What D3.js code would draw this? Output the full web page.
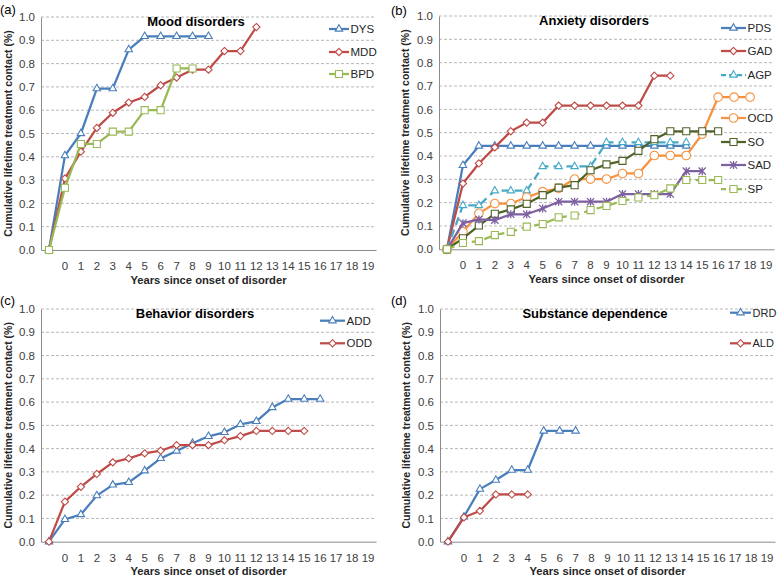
<!DOCTYPE html>
<html><head><meta charset="utf-8">
<script src="https://cdn.jsdelivr.net/npm/d3@7"></script>
<style>
body{margin:0;background:#fff}
svg{display:block}
text{font-family:"Liberation Sans",Arial,Helvetica,sans-serif}
</style>
</head><body>
<svg id="chart" width="777" height="577"></svg>
<script>
// ---------- DATA ----------
const categories = ["", "0","1","2","3","4","5","6","7","8","9","10","11","12","13","14","15","16","17","18","19"];
const yTicks = [0,0.1,0.2,0.3,0.4,0.5,0.6,0.7,0.8,0.9,1.0];

// (a) Mood disorders
const moodNames = ["DYS","MDD","BPD"];
const DYS = [0,0.405,0.50,0.693,0.693,0.86,0.917,0.917,0.917,0.917,0.917];
const MDD = [0,0.307,0.422,0.524,0.589,0.633,0.657,0.707,0.74,0.774,0.774,0.854,0.854,0.957];
const BPD = [0,0.267,0.455,0.455,0.508,0.508,0.60,0.60,0.779,0.779];

// (b) Anxiety disorders
const anxNames = ["PDS","GAD","AGP","OCD","SO","SAD","SP"];
const PDS = [0,0.36,0.443,0.443,0.443,0.443,0.443,0.443,0.443,0.443,0.443,0.443,0.443,0.443,0.443,0.443];
const GAD = [0,0.282,0.368,0.437,0.506,0.543,0.543,0.616,0.616,0.616,0.616,0.616,0.616,0.744,0.744];
const AGP = [0,0.188,0.188,0.251,0.251,0.251,0.355,0.355,0.355,0.355,0.458,0.458,0.458,0.458,0.458,0.458];
const OCD = [0,0.075,0.154,0.196,0.196,0.223,0.247,0.261,0.301,0.301,0.301,0.325,0.325,0.402,0.402,0.402,0.494,0.652,0.652,0.652];
const SO  = [0,0.047,0.102,0.152,0.171,0.195,0.232,0.264,0.275,0.339,0.364,0.379,0.422,0.472,0.506,0.506,0.506,0.506];
const SAD = [0,0.112,0.128,0.125,0.15,0.15,0.175,0.204,0.204,0.204,0.204,0.237,0.237,0.237,0.237,0.335,0.335];
const SP  = [0,0.027,0.035,0.061,0.075,0.097,0.108,0.137,0.145,0.168,0.186,0.207,0.222,0.232,0.261,0.297,0.297,0.297];

// (c) Behavior disorders
const behNames = ["ADD","ODD"];
const ADD = [0,0.096,0.117,0.198,0.244,0.255,0.305,0.358,0.39,0.423,0.453,0.47,0.504,0.517,0.577,0.613,0.613,0.613];
const ODD = [0,0.172,0.236,0.291,0.341,0.358,0.38,0.391,0.415,0.415,0.415,0.436,0.454,0.476,0.476,0.476,0.476];

// (d) Substance dependence
const subNames = ["DRD","ALD"];
const DRD = [0,0.107,0.226,0.265,0.308,0.308,0.476,0.476,0.476];
const ALD = [0,0.105,0.132,0.203,0.203,0.203];

// ---------- STYLES ----------
const BLUE="#4a7ebb", RED="#be4b48", GREEN="#98b954", TEAL="#46aac5", ORANGE="#f69240", DKGREEN="#4f6228", PURPLE="#7d60a0";

const panels = [
  {label:"(a)", lx:0, ly:14, title:"Mood disorders", tx:196, ty:26,
   x0:41, x1:376, y0:17, y1:250, ytx:8,
   legLine:[329,349], legY:[29,52,74], legFont:11.5,
   series:[
    {name:moodNames[0], values:DYS, color:BLUE, marker:"tri"},
    {name:moodNames[1], values:MDD, color:RED, marker:"dia"},
    {name:moodNames[2], values:BPD, color:GREEN, marker:"sq"}]},
  {label:"(b)", lx:391, ly:15, title:"Anxiety disorders", tx:594, ty:25,
   x0:439, x1:774, y0:16, y1:249.3, ytx:405,
   legLine:[721,746], legY:[28,51,75,118,142,165,189], legFont:11.5,
   series:[
    {name:anxNames[0], values:PDS, color:BLUE, marker:"tri"},
    {name:anxNames[1], values:GAD, color:RED, marker:"dia"},
    {name:anxNames[2], values:AGP, color:TEAL, marker:"tri", dash:"8,5"},
    {name:anxNames[3], values:OCD, color:ORANGE, marker:"circ"},
    {name:anxNames[4], values:SO, color:DKGREEN, marker:"sq"},
    {name:anxNames[5], values:SAD, color:PURPLE, marker:"star"},
    {name:anxNames[6], values:SP, color:GREEN, marker:"sq", dash:"8,5"}]},
  {label:"(c)", lx:0, ly:305, title:"Behavior disorders", tx:195, ty:318,
   x0:41, x1:376, y0:309, y1:541.7, ytx:8,
   legLine:[320,345], legY:[320.7,343.3], legFont:11.5,
   series:[
    {name:behNames[0], values:ADD, color:BLUE, marker:"tri"},
    {name:behNames[1], values:ODD, color:RED, marker:"dia"}]},
  {label:"(d)", lx:391, ly:305, title:"Substance dependence", tx:595, ty:318,
   x0:440, x1:775, y0:309, y1:541.7, ytx:406,
   legLine:[730,751], legY:[312.7,343.3], legFont:11,
   series:[
    {name:subNames[0], values:DRD, color:BLUE, marker:"tri"},
    {name:subNames[1], values:ALD, color:RED, marker:"dia"}]}
];

const svg = d3.select("#chart");

function markerPath(type){
  switch(type){
    case "tri": return d3.symbol(d3.symbolTriangle, 24)();
    case "dia": return "M0,-3.6L3.6,0L0,3.6L-3.6,0Z";
    case "sq": return d3.symbol(d3.symbolSquare, 50)();
    case "circ": return d3.symbol(d3.symbolCircle, 58)();
    case "star": return "M-3.6,-3.6L3.6,3.6M-3.6,3.6L3.6,-3.6M0,-4L0,4";
  }
}

panels.forEach(p => {
  const g = svg.append("g");
  const x = d3.scaleBand().domain(categories).range([p.x0, p.x1]).padding(0);
  const y = d3.scaleLinear().domain([0,1]).range([p.y1, p.y0]);
  const cx = c => x(c) + x.bandwidth()/2;

  // gridlines
  g.append("g").selectAll("line").data(yTicks.filter(t=>t>0)).join("line")
    .attr("x1", p.x0).attr("x2", p.x1)
    .attr("y1", d=>y(d)).attr("y2", d=>y(d))
    .attr("stroke","#a6a6a6").attr("stroke-width",0.8).attr("stroke-dasharray","3,2");

  // axes
  const yAxis = g.append("g").attr("transform",`translate(${p.x0},0)`)
    .call(d3.axisLeft(y).tickValues(yTicks).tickFormat(d3.format(".1f")).tickSize(0).tickPadding(6));
  yAxis.select(".domain").attr("stroke","#8c8c8c").attr("stroke-width",1);
  yAxis.selectAll("text").attr("font-size","11.5px").attr("fill","#404040");

  const xAxis = g.append("g").attr("transform",`translate(0,${p.y1})`)
    .call(d3.axisBottom(x).tickSize(0).tickPadding(12));
  xAxis.select(".domain").attr("stroke","#8c8c8c").attr("stroke-width",1);
  xAxis.selectAll("text").attr("font-size","11.5px").attr("fill","#404040");

  // axis titles
  g.append("text").attr("x",(p.x0+p.x1)/2).attr("y",p.y1+33.5)
    .attr("text-anchor","middle").attr("font-size","11.2px").attr("font-weight","bold").attr("fill","#262626")
    .text("Years since onset of disorder");
  g.append("text").attr("transform",`translate(${p.ytx+4},${(p.y0+p.y1)/2}) rotate(-90)`)
    .attr("text-anchor","middle").attr("font-size","10.5px").attr("font-weight","bold").attr("fill","#262626")
    .text("Cumulative lifetime treatment contact (%)");

  // title & label
  g.append("text").attr("x",p.tx).attr("y",p.ty).attr("text-anchor","middle")
    .attr("font-size","13px").attr("font-weight","bold").attr("fill","#000").text(p.title);
  g.append("text").attr("x",p.lx).attr("y",p.ly).attr("font-size","13px").attr("fill","#000").text(p.label);

  // series
  p.series.forEach((s,i) => {
    const pts = s.values.map((v,k)=>({c:categories[k], v}));
    const line = d3.line().x(d=>cx(d.c)).y(d=>y(d.v));
    g.append("path").attr("d", line(pts)).attr("fill","none")
      .attr("stroke", s.color).attr("stroke-width",2.25)
      .attr("stroke-dasharray", s.dash || null).attr("stroke-linejoin","round");
    g.append("g").selectAll("path").data(pts).join("path")
      .attr("transform", d=>`translate(${cx(d.c)},${y(d.v)})`)
      .attr("d", markerPath(s.marker))
      .attr("fill", s.marker==="star" ? "none" : "#fff")
      .attr("stroke", s.color).attr("stroke-width", s.marker==="star"?1.3:1.1);

    // legend
    const ly = p.legY[i];
    g.append("line").attr("x1",p.legLine[0]).attr("x2",p.legLine[1]).attr("y1",ly).attr("y2",ly)
      .attr("stroke", s.color).attr("stroke-width",2.25).attr("stroke-dasharray", s.dash ? "5,3" : null);
    g.append("path").attr("transform",`translate(${(p.legLine[0]+p.legLine[1])/2},${ly})`)
      .attr("d", markerPath(s.marker))
      .attr("fill", s.marker==="star" ? "none" : "#fff")
      .attr("stroke", s.color).attr("stroke-width", s.marker==="star"?1.3:1.1);
    g.append("text").attr("x",p.legLine[1]+1.5).attr("y",ly).attr("dy","0.36em")
      .attr("font-size",p.legFont+"px").attr("fill","#262626").text(s.name);
  });
});
</script>
</body></html>
